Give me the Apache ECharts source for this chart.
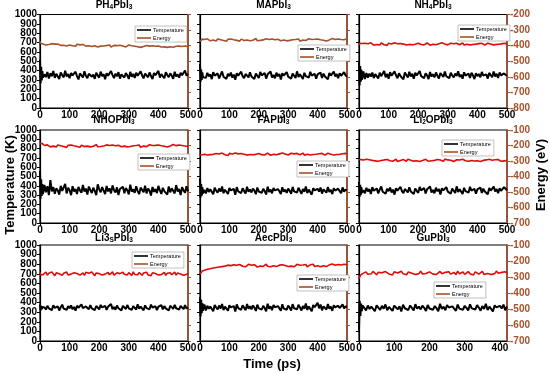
<!DOCTYPE html>
<html><head><meta charset="utf-8">
<script src="https://cdn.jsdelivr.net/npm/echarts@6/dist/echarts.min.js"></script>
<style>html,body{margin:0;padding:0;background:#fff}#c{width:550px;height:374px}</style>
</head><body><div id="c"></div>
<script>
// ---------- DATA ----------
const time = [0,2,4,6,8,10,15,20,25,30,35,40,45,50,55,60,65,70,75,80,85,90,95,100,105,110,115,120,125,130,135,140,145,150,155,160,165,170,175,180,185,190,195,200,205,210,215,220,225,230,235,240,245,250,255,260,265,270,275,280,285,290,295,300,305,310,315,320,325,330,335,340,345,350,355,360,365,370,375,380,385,390,395,400,405,410,415,420,425,430,435,440,445,450,455,460,465,470,475,480,485,490,495,500];
const titles = ["PH|4|PbI|3","MAPbI|3","NH|4|PbI|3","NHOPbI|3","FAPbI|3","Li|2|OPbI|3","Li3|S|PbI|3","AecPbI|3","GuPbI|3"];
const tempTicksEven = [0,200,400,600,800,1000];
const tempTicksOdd = [100,300,500,700,900];

const T_PH4 = [520,265,440,295,395,325,360,330,385,315,372,340,395,322,365,345,310,380,352,328,398,337,362,318,375,349,332,388,341,306,370,355,326,392,344,318,366,381,335,357,312,377,349,325,389,340,362,307,371,346,330,396,352,320,368,338,384,314,359,343,327,373,350,311,386,334,364,322,378,345,331,392,348,317,369,355,328,380,342,309,374,351,336,397,325,362,340,318,383,353,329,371,346,312,388,337,360,324,376,350,333,402,344,366];
const E_PH4 = [-372,-385,-378,-388,-380,-390,-388,-396,-384,-393,-399,-387,-395,-390,-401,-389,-394,-398,-386,-397,-392,-402,-390,-396,-388,-400,-393,-404,-391,-398,-395,-406,-392,-399,-403,-394,-400,-397,-405,-393,-401,-396,-408,-398,-403,-394,-402,-407,-399,-404,-396,-409,-401,-398,-406,-400,-410,-397,-405,-402,-399,-408,-403,-396,-406,-401,-409,-404,-398,-407,-402,-411,-400,-405,-408,-399,-406,-403,-410,-401,-407,-404,-412,-402,-406,-409,-400,-408,-405,-411,-403,-407,-401,-410,-406,-404,-412,-403,-408,-405,-410,-402,-407,-406];
const T_MA = [470,280,410,300,380,330,350,322,377,338,361,309,384,345,329,370,316,355,391,334,348,312,366,340,379,325,357,303,372,346,331,388,341,319,364,350,327,381,337,358,310,369,344,322,386,349,333,374,315,360,342,390,326,353,318,377,339,363,305,371,348,329,383,336,357,314,368,345,320,392,332,361,349,311,376,340,355,324,387,346,330,366,313,359,343,380,321,368,337,352,308,375,347,329,389,338,362,318,371,344,326,384,350,335];
const E_MA = [-372,-365,-360,-368,-358,-364,-360,-366,-356,-363,-369,-358,-364,-361,-370,-357,-365,-362,-355,-367,-360,-372,-359,-364,-357,-368,-362,-356,-366,-361,-371,-358,-363,-367,-355,-364,-360,-369,-357,-365,-362,-354,-368,-361,-366,-358,-363,-370,-356,-364,-360,-367,-357,-365,-362,-373,-359,-363,-368,-356,-364,-361,-369,-358,-366,-355,-362,-368,-360,-365,-357,-371,-361,-364,-358,-367,-363,-355,-366,-360,-369,-359,-364,-357,-368,-362,-356,-365,-360,-370,-358,-363,-366,-354,-364,-361,-368,-357,-365,-360,-352,-362,-358,-355];
const T_NH4 = [490,240,450,280,410,300,390,310,375,325,368,335,380,320,362,348,315,378,340,357,396,329,366,312,383,345,330,391,350,318,372,342,361,306,379,353,327,388,338,365,314,376,347,333,394,341,358,320,371,349,310,385,336,362,327,380,345,316,373,354,332,389,340,359,319,377,348,326,369,343,393,331,356,313,382,346,337,367,321,378,350,309,372,341,364,328,386,347,335,360,315,375,352,330,391,338,366,322,380,349,334,370,357,343];
const E_NH4 = [-398,-385,-392,-388,-395,-386,-390,-384,-395,-388,-393,-382,-391,-397,-386,-392,-389,-396,-383,-390,-394,-387,-398,-385,-391,-389,-395,-382,-392,-388,-397,-386,-393,-390,-384,-396,-389,-392,-381,-394,-388,-391,-398,-385,-390,-393,-386,-395,-389,-383,-392,-397,-387,-391,-385,-394,-390,-388,-396,-382,-393,-389,-386,-395,-391,-384,-392,-388,-397,-385,-390,-394,-387,-383,-396,-389,-391,-386,-395,-388,-392,-381,-390,-394,-387,-393,-385,-391,-396,-388,-384,-393,-390,-386,-395,-389,-392,-383,-391,-394,-387,-390,-385,-393];
const T_NHOP = [560,260,470,290,420,310,410,330,395,300,460,340,385,315,372,350,305,400,345,330,420,318,378,352,300,395,340,365,312,388,350,325,410,338,370,305,392,355,322,380,345,300,415,362,330,386,348,310,398,340,372,318,405,352,328,383,300,366,345,390,320,375,352,308,412,337,362,325,395,343,310,380,356,330,402,318,370,348,295,388,335,365,322,399,350,312,378,342,360,305,392,330,372,347,318,408,338,365,300,385,350,325,395,340];
const E_NHOP = [-185,-192,-180,-196,-188,-198,-200,-206,-196,-203,-209,-198,-204,-201,-210,-197,-205,-202,-195,-207,-200,-212,-199,-204,-197,-208,-202,-196,-206,-201,-211,-198,-203,-207,-195,-204,-200,-209,-197,-205,-202,-194,-208,-201,-206,-198,-203,-210,-196,-204,-200,-207,-197,-205,-202,-213,-199,-203,-208,-196,-204,-201,-209,-198,-206,-195,-202,-208,-200,-205,-197,-211,-201,-204,-198,-207,-203,-195,-206,-200,-209,-199,-204,-197,-208,-202,-196,-205,-200,-210,-198,-203,-206,-194,-204,-201,-208,-197,-205,-200,-210,-203,-199,-206];
const T_FA = [480,275,420,295,385,320,355,318,376,334,362,341,309,380,348,326,371,337,393,320,358,344,312,377,350,331,366,303,385,340,357,322,374,345,316,389,336,361,328,371,347,310,382,339,355,324,368,343,307,391,333,360,319,376,350,329,365,341,312,384,336,358,323,370,346,315,388,340,354,327,379,348,313,366,335,392,321,359,344,305,375,351,330,368,338,381,316,362,347,326,387,335,357,311,373,349,329,369,342,320,383,337,360,352];
const E_FA = [-262,-250,-258,-254,-260,-252,-256,-250,-261,-254,-259,-248,-257,-263,-252,-258,-255,-262,-249,-256,-260,-253,-264,-251,-257,-255,-261,-248,-258,-254,-263,-252,-259,-256,-250,-262,-255,-258,-247,-260,-254,-257,-264,-251,-256,-259,-252,-261,-255,-249,-258,-263,-253,-257,-251,-260,-256,-254,-262,-248,-259,-255,-252,-261,-257,-250,-258,-254,-263,-251,-256,-260,-253,-249,-262,-255,-257,-252,-261,-254,-258,-247,-256,-260,-253,-259,-251,-257,-262,-254,-250,-259,-256,-252,-261,-255,-258,-249,-257,-260,-253,-256,-251,-254];
const T_Li2O = [440,280,410,300,385,325,352,320,378,339,365,311,386,346,329,372,318,358,393,336,350,314,368,342,381,327,359,305,374,348,333,390,343,321,366,352,329,383,339,360,312,371,346,324,388,351,335,376,317,362,344,392,328,355,320,379,341,365,307,373,350,331,385,338,359,316,370,347,322,394,334,363,351,313,378,342,357,326,389,348,332,368,315,361,345,382,323,370,339,354,310,377,349,331,391,340,364,320,373,346,328,386,380,352];
const E_Li2O = [-290,-300,-293,-298,-291,-299,-294,-301,-289,-297,-292,-303,-296,-288,-299,-295,-302,-291,-297,-300,-293,-304,-290,-296,-298,-292,-301,-295,-289,-303,-294,-297,-300,-291,-296,-302,-288,-299,-295,-293,-301,-290,-298,-294,-303,-292,-297,-300,-289,-295,-302,-293,-298,-291,-296,-304,-290,-299,-294,-297,-301,-288,-296,-293,-300,-295,-291,-303,-297,-292,-299,-294,-301,-289,-296,-298,-293,-302,-290,-297,-295,-300,-292,-298,-294,-303,-291,-296,-299,-293,-301,-289,-297,-295,-300,-292,-298,-290,-296,-302,-294,-299,-293,-297];
const T_Li3S = [380,320,365,330,355,335,350,328,366,340,357,322,372,345,333,361,318,352,378,337,348,325,363,341,370,330,355,316,368,346,334,381,343,327,360,350,331,374,339,356,321,365,347,329,376,349,336,367,324,358,344,384,332,353,326,370,341,361,319,366,348,334,375,340,357,323,364,346,328,383,337,359,350,320,371,343,355,330,379,347,335,362,322,357,345,373,329,363,340,352,318,368,349,335,377,341,360,327,366,346,332,374,338,352];
const E_Li3S = [-272,-288,-276,-290,-279,-285,-281,-270,-289,-276,-284,-268,-279,-292,-274,-286,-280,-271,-290,-277,-283,-269,-287,-275,-282,-291,-273,-285,-278,-266,-288,-280,-274,-290,-271,-283,-277,-286,-269,-281,-292,-275,-284,-279,-270,-288,-276,-282,-293,-272,-286,-278,-268,-289,-281,-274,-285,-279,-291,-270,-283,-276,-287,-273,-280,-290,-268,-284,-277,-286,-272,-281,-289,-275,-283,-270,-287,-279,-292,-274,-282,-278,-269,-288,-276,-285,-280,-271,-290,-277,-283,-273,-286,-279,-270,-288,-275,-284,-281,-272,-289,-277,-283,-279];
const T_Aec = [455,255,430,290,395,315,380,318,368,335,360,342,310,376,349,328,370,338,385,322,358,345,315,372,351,333,364,308,381,342,356,325,373,347,319,386,337,362,330,370,348,313,379,340,357,327,366,344,310,389,335,361,321,375,351,331,363,343,316,382,338,358,326,369,347,318,384,341,355,329,377,350,317,365,336,390,323,360,346,309,374,352,333,399,340,380,320,361,348,328,385,337,358,314,372,350,331,368,343,323,381,339,360,355];
const E_Aec = [-282,-275,-270,-268,-262,-265,-258,-262,-252,-256,-248,-253,-244,-250,-241,-246,-238,-243,-235,-240,-232,-238,-226,-234,-229,-236,-224,-231,-227,-237,-222,-230,-233,-225,-236,-228,-221,-232,-227,-235,-223,-230,-238,-226,-231,-224,-234,-228,-220,-233,-227,-236,-225,-230,-222,-235,-229,-226,-237,-223,-231,-228,-219,-234,-226,-232,-224,-236,-229,-221,-233,-227,-235,-225,-230,-222,-237,-228,-224,-232,-220,-234,-227,-230,-223,-236,-226,-229,-221,-235,-228,-224,-233,-219,-230,-226,-234,-222,-229,-225,-232,-220,-228,-224];
const T_Gu = [110,420,260,390,310,370,345,318,370,333,358,340,310,372,347,325,366,336,381,320,355,343,314,369,350,330,361,307,377,341,353,323,370,345,318,383,336,359,329,367,346,312,376,339,355,326,364,342,309,387,333,358,321,373,349,330,361,341,315,380,337,356,325,367,345,317,382,340,353,328,374,348,316,363,335,388,322,358,344,308,372,350,332,366,338,379,320,359];
const E_Gu = [-308,-296,-290,-285,-282,-279,-276,-268,-283,-272,-280,-265,-277,-286,-270,-279,-274,-284,-266,-276,-281,-271,-287,-268,-278,-275,-283,-264,-279,-272,-286,-269,-280,-276,-267,-284,-274,-279,-263,-281,-272,-278,-288,-268,-276,-282,-270,-284,-274,-265,-279,-287,-271,-278,-267,-282,-276,-272,-285,-264,-280,-275,-269,-283,-277,-266,-279,-272,-287,-268,-276,-282,-270,-265,-285,-274,-278,-269,-284,-272,-279,-263,-276,-282,-271,-280,-267,-278];

const tempSeries = [T_PH4,T_MA,T_NH4,T_NHOP,T_FA,T_Li2O,T_Li3S,T_Aec,T_Gu];
const energySeries = [E_PH4,E_MA,E_NH4,E_NHOP,E_FA,E_Li2O,E_Li3S,E_Aec,E_Gu];
const xMax = [500,500,500,500,500,500,500,500,420];
const tempRange = [0,1000];
const energyRanges = [[-800,-200],[-700,-100],[-700,-100]];

// ---------- LAYOUT / STYLE ----------
const FONT = 'Liberation Sans, Arial, sans-serif';
const BROWN = '#a5512a';
const RED = '#e00a0a';
const eColors = [BROWN,BROWN,RED,RED,RED,RED,RED,RED,RED];
const colLeft = [40,200,359], colW = [148,147,148];
const rowTop = [14.5,130,245], rowH = [93.5,93,96];
const titleY = [5,120,238];
const legendPos = [[135,26],[298,45],[458,25],[138,154],[297,161],[442,140],[132,252],[297,275],[434,282]];
const fmt = v => String(v);
const lblStyle = {color:'#000', fontSize:10, fontWeight:'bold', fontFamily:FONT};

const grids=[], xAxes=[], yAxes=[], series=[], legends=[], graphics=[];
for (let i=0;i<9;i++){
  const r=Math.floor(i/3), c=i%3;
  grids.push({left:colLeft[c], top:rowTop[r], width:colW[c], height:rowH[r], show:true, borderColor:'#000', borderWidth:1.2, containLabel:false});
  xAxes.push({type:'value', gridIndex:i, min:0, max:xMax[i], interval:100,
    axisLine:{show:true, onZero:false, lineStyle:{color:'#000', width:1.2}},
    axisTick:{show:true, length:3, lineStyle:{color:'#000'}},
    axisLabel:Object.assign({show:true, margin:2, formatter:fmt, showMinLabel:true, showMaxLabel:(xMax[i]%100===0)}, lblStyle),
    splitLine:{show:false}});
  // left temperature axis (even labels)
  yAxes.push({type:'value', gridIndex:i, position:'left', min:tempRange[0], max:tempRange[1], interval:200,
    axisLine:{show:true, lineStyle:{color:'#000', width:1.2}},
    axisTick:{show:true, length:3, lineStyle:{color:'#000'}},
    axisLabel:Object.assign({show:c===0, margin:3, formatter:fmt, showMinLabel:true, showMaxLabel:true}, lblStyle),
    splitLine:{show:false}});
  // right energy axis
  yAxes.push({type:'value', gridIndex:i, position:'right', min:energyRanges[r][0], max:energyRanges[r][1], interval:100,
    axisLine:{show:true, lineStyle:{color:BROWN, width:1.5}},
    axisTick:{show:true, length:3, lineStyle:{color:BROWN}},
    axisLabel:Object.assign({show:c===2, margin:3, formatter:fmt, showMinLabel:true, showMaxLabel:true}, lblStyle, {color:BROWN}),
    splitLine:{show:false}});
  // left temperature axis (odd labels/ticks), same scale
  yAxes.push({type:'value', gridIndex:i, position:'left', min:tempRange[0], max:tempRange[1],
    axisLine:{show:false},
    axisTick:{show:true, length:3, customValues:tempTicksOdd, lineStyle:{color:'#000'}},
    axisLabel:Object.assign({show:c===0, margin:3, formatter:fmt, customValues:tempTicksOdd}, lblStyle),
    splitLine:{show:false}});
  const tx = time.slice(0, tempSeries[i].length);
  series.push({name:'Temperature', type:'line', xAxisIndex:i, yAxisIndex:3*i, symbol:'none', silent:true,
    data: tx.map((t,k)=>[t,tempSeries[i][k]]), lineStyle:{color:'#000', width:2}, itemStyle:{color:'#000'}});
  series.push({name:'Energy', type:'line', xAxisIndex:i, yAxisIndex:3*i+1, symbol:'none', silent:true,
    data: tx.map((t,k)=>[t,energySeries[i][k]]), lineStyle:{color:eColors[i], width:1.6}, itemStyle:{color:eColors[i]}});
  legends.push({left:legendPos[i][0], top:legendPos[i][1], orient:'vertical', selectedMode:false,
    data:[{name:'Temperature', icon:'rect'},{name:'Energy', icon:'rect'}],
    itemWidth:14, itemHeight:1.6, itemGap:2, padding:[1,3,1,2], backgroundColor:'#fff', borderColor:'#999', borderWidth:0.6,
    textStyle:{fontSize:5.5, fontFamily:FONT, color:'#000', padding:[0,0,0,-3]}});
  const parts = titles[i].split('|');
  let txt='';
  parts.forEach((p,k)=>{ if(p) txt += (k%2===0?'{m|':'{s|') + p + '}'; });
  graphics.push({type:'text', x:colLeft[c]+colW[c]/2, y:titleY[r], z:10,
    style:{text:txt, align:'center', verticalAlign:'middle',
      rich:{m:{fontSize:10, fontWeight:'bold', fontFamily:FONT, fill:'#000', lineHeight:12, verticalAlign:'middle'},
            s:{fontSize:6.5, fontWeight:'bold', fontFamily:FONT, fill:'#000', lineHeight:6, verticalAlign:'bottom'}}}});
}
graphics.push({type:'text', x:10, y:185, rotation:Math.PI/2, style:{text:'Temperature (K)', align:'center', verticalAlign:'middle', font:'bold 13px '+FONT, fill:'#000'}});
graphics.push({type:'text', x:541, y:175, rotation:Math.PI/2, style:{text:'Energy (eV)', align:'center', verticalAlign:'middle', font:'bold 13px '+FONT, fill:'#000'}});
graphics.push({type:'text', x:272, y:364, style:{text:'Time (ps)', align:'center', verticalAlign:'middle', font:'bold 13px '+FONT, fill:'#000'}});

const chart = echarts.init(document.getElementById('c'), null, {renderer:'canvas'});
chart.setOption({animation:false, backgroundColor:'#fff', grid:grids, xAxis:xAxes, yAxis:yAxes, series:series, legend:legends, graphic:graphics});
</script></body></html>
